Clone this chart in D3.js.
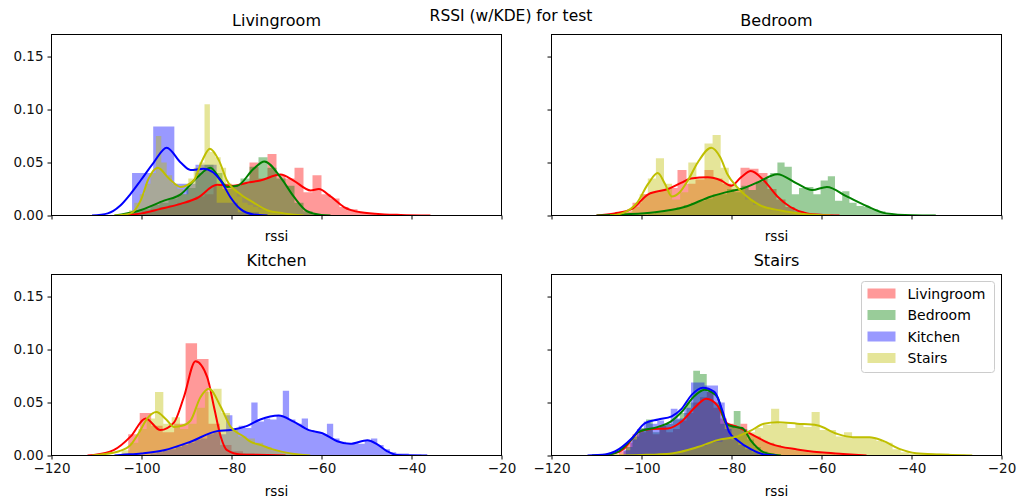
<!DOCTYPE html>
<html>
<head>
<meta charset="utf-8">
<script src="https://cdn.jsdelivr.net/npm/d3@7"></script>
<style>
  body { margin: 0; background: #fff; }
  text { font-family: "DejaVu Sans", sans-serif; }
</style>
</head>
<body>
<div id="chart"></div>
<script>
// rooms, colours and ticks
const rooms = ["Livingroom", "Bedroom", "Kitchen", "Stairs"];
const roomColors = ["#ff0000", "#008000", "#0000ff", "#bfbf00"];
const xTicks = [-120, -100, -80, -60, -40, -20];
const yTicks = [0, 0.05, 0.10, 0.15];

// histogram bins: [first edge, bin width], then densities per bin
// KDE curves: [rssi, density]

// ---- Livingroom panel
const binsP1Red = [-104, 2];
const histP1Red = [0.001, 0.002, 0.004, 0.006, 0.008, 0.01, 0.012, 0.014, 0.018, 0.02, 0.028, 0.03, 0.028, 0.03,
  0.05, 0.035, 0.058, 0.038, 0.035, 0.045, 0.022, 0.038, 0.02, 0.016, 0.008, 0.006, 0.003, 0.002];
const kdeP1Red = [[-104, 0], [-100, 0.002], [-96, 0.006], [-91.3, 0.011], [-87.6, 0.0165], [-83.2, 0.029], [-79.5, 0.028],
  [-76.5, 0.031], [-73.6, 0.033], [-69.1, 0.0387], [-66.2, 0.033], [-62.4, 0.0236], [-60.6, 0.025], [-58, 0.018],
  [-55, 0.008], [-51.3, 0.003], [-46, 0.001], [-42.4, 0.0005], [-35.8, 0]];

const binsP1Green = [-104, 2];
const histP1Green = [0.002, 0.004, 0.006, 0.01, 0.012, 0.016, 0.02, 0.026, 0.04, 0.048, 0.04, 0.025, 0.028, 0.035,
  0.046, 0.055, 0.045, 0.035, 0.028, 0.012, 0.004, 0.001];
const kdeP1Green = [[-106, 0], [-101, 0.004], [-95, 0.014], [-91.3, 0.02], [-87.6, 0.036], [-84.7, 0.045], [-82.5, 0.034],
  [-81, 0.027], [-78.7, 0.028], [-75.1, 0.044], [-72.7, 0.051], [-69.1, 0.036], [-66.2, 0.018], [-63.2, 0.004],
  [-60, 0.0005], [-58, 0]];

const binsP1Blue = [-102.1, 4.7];
const histP1Blue = [0.04, 0.084, 0.03, 0.048, 0.012, 0.003];
const kdeP1Blue = [[-111, 0], [-107.5, 0.002], [-104.7, 0.0094], [-102.5, 0.02], [-100.2, 0.033], [-97.3, 0.05],
  [-94.4, 0.064], [-91.3, 0.05], [-89.1, 0.043], [-86.2, 0.044], [-82.4, 0.033], [-80.2, 0.017], [-78, 0.006],
  [-75.1, 0.001], [-72, 0]];

const binsP1Yellow = [-102.8, 1.2];
const histP1Yellow = [0.005, 0.012, 0.02, 0.03, 0.04, 0.075, 0.05, 0.038, 0.03, 0.025, 0.02, 0.035, 0.045, 0.05,
  0.105, 0.06, 0.055, 0.045, 0.03, 0.025, 0.018, 0.012, 0.01, 0.008, 0.006, 0.005, 0.003, 0.002];
const kdeP1Yellow = [[-106, 0], [-102.4, 0.002], [-100.2, 0.014], [-98.4, 0.035], [-96.4, 0.045], [-93.9, 0.035],
  [-91.3, 0.027], [-88.4, 0.033], [-86.5, 0.052], [-84.8, 0.063], [-82.8, 0.052], [-81, 0.033], [-78, 0.02],
  [-75, 0.012], [-72.1, 0.005], [-68.4, 0.002], [-64, 0]];

// ---- Bedroom panel
const binsP2Red = [-106, 2];
const histP2Red = [0.002, 0.004, 0.012, 0.02, 0.022, 0.024, 0.026, 0.043, 0.03, 0.034, 0.043, 0.035, 0.03, 0.025,
  0.045, 0.044, 0.04, 0.025, 0.015, 0.008, 0.004, 0.002];
const kdeP2Red = [[-110, 0], [-106, 0.002], [-102.2, 0.006], [-98.5, 0.02], [-94.1, 0.025], [-91.1, 0.031], [-89, 0.035],
  [-85.3, 0.036], [-82.3, 0.033], [-80.1, 0.028], [-77.9, 0.036], [-75.7, 0.042], [-72.8, 0.033], [-69.8, 0.018],
  [-66.9, 0.008], [-63.2, 0.002], [-59.6, 0.0005], [-56, 0]];

const binsP2Green = [-100.2, 1.6];
const histP2Green = [0.001, 0.002, 0.003, 0.004, 0.006, 0.008, 0.01, 0.012, 0.014, 0.016, 0.02, 0.02, 0.025, 0.022,
  0.028, 0.024, 0.032, 0.035, 0.04, 0.05, 0.046, 0.02, 0.026, 0.027, 0.02, 0.033, 0.037, 0.014, 0.023, 0.012,
  0.009, 0.008, 0.006, 0.004, 0.002, 0.001, 0.001, 0.0005];
const kdeP2Green = [[-110, 0], [-104, 0.001], [-97, 0.003], [-90.5, 0.008], [-84.5, 0.018], [-80.1, 0.023],
  [-77.9, 0.025], [-74.3, 0.031], [-69.8, 0.039], [-65.4, 0.03], [-62.1, 0.024], [-58.8, 0.027], [-54.4, 0.018],
  [-50, 0.009], [-45.6, 0.002], [-39.8, 0.0003], [-34.6, 0]];

const binsP2Yellow = [-104, 1.8];
const histP2Yellow = [0.003, 0.008, 0.02, 0.035, 0.054, 0.03, 0.015, 0.022, 0.05, 0.035, 0.068, 0.076, 0.045, 0.03,
  0.025, 0.015, 0.01, 0.008, 0.005, 0.004, 0.003, 0.002, 0.001, 0.001];
const kdeP2Yellow = [[-107, 0], [-104.4, 0.002], [-101, 0.012], [-98.5, 0.03], [-96.4, 0.04], [-94.8, 0.03],
  [-93.3, 0.018], [-91.5, 0.022], [-89.7, 0.033], [-87.5, 0.05], [-84.5, 0.064], [-82.5, 0.055], [-80.9, 0.039],
  [-78.7, 0.0265], [-75.7, 0.015], [-73.5, 0.0094], [-69.1, 0.0047], [-64, 0.0015], [-58, 0]];

// ---- Kitchen panel
const binsP3Red = [-102.95, 2.55];
const histP3Red = [0.02, 0.04, 0.028, 0.022, 0.03, 0.106, 0.091, 0.03, 0.01, 0.004, 0.002, 0.001];
const kdeP3Red = [[-112, 0], [-110.6, 0.0005], [-106.2, 0.005], [-102.4, 0.018], [-99.1, 0.035], [-95.8, 0.024],
  [-92.8, 0.031], [-90.6, 0.055], [-88, 0.089], [-85.4, 0.074], [-83.9, 0.046], [-82.4, 0.018], [-81, 0.005],
  [-78, 0.001], [-72, 0.0005], [-68, 0]];

const binsP3Blue = [-98, 1.4];
const histP3Blue = [0.002, 0.003, 0.005, 0.006, 0.008, 0.01, 0.012, 0.015, 0.016, 0.02, 0.022, 0.02, 0.038, 0.025,
  0.028, 0.026, 0.05, 0.032, 0.035, 0.034, 0.038, 0.061, 0.034, 0.03, 0.035, 0.024, 0.022, 0.02, 0.03, 0.016,
  0.013, 0.011, 0.012, 0.011, 0.014, 0.016, 0.01, 0.006, 0.003, 0.002, 0.002, 0.001, 0.001, 0.0005];
const kdeP3Blue = [[-106, 0], [-104.7, 0.0005], [-100, 0.002], [-95, 0.005], [-89.1, 0.013], [-83.2, 0.023],
  [-80.2, 0.024], [-76.5, 0.028], [-73.6, 0.034], [-69.5, 0.0377], [-66.2, 0.032], [-62.8, 0.024], [-59.8, 0.021],
  [-56.5, 0.0135], [-53.6, 0.011], [-49.8, 0.0145], [-47.6, 0.0105], [-45.4, 0.004], [-43.2, 0.0005], [-36.5, 0]];

const binsP3Yellow = [-104.4, 1.85];
const histP3Yellow = [0.005, 0.012, 0.025, 0.035, 0.06, 0.03, 0.036, 0.025, 0.03, 0.045, 0.06, 0.063, 0.04, 0.025,
  0.018, 0.016, 0.012, 0.008, 0.005, 0.003, 0.002, 0.001];
const kdeP3Yellow = [[-111, 0], [-109, 0.001], [-105, 0.004], [-102.4, 0.01], [-100.5, 0.022], [-98.7, 0.035],
  [-96.7, 0.041], [-94.5, 0.034], [-92.8, 0.027], [-91, 0.028], [-89.1, 0.033], [-86.9, 0.055], [-85, 0.063],
  [-82.4, 0.046], [-80.2, 0.027], [-77.3, 0.018], [-75.8, 0.013], [-73.6, 0.01], [-71, 0.006], [-66.9, 0.002],
  [-62.5, 0]];

// ---- Stairs panel
const binsP4Red = [-105, 1.5];
const histP4Red = [0.004, 0.012, 0.02, 0.022, 0.025, 0.02, 0.028, 0.022, 0.025, 0.033, 0.04, 0.05, 0.055, 0.06,
  0.045, 0.035, 0.03, 0.026, 0.03, 0.02, 0.018, 0.014, 0.012, 0.01, 0.008, 0.006, 0.005, 0.004, 0.003, 0.003,
  0.002, 0.002, 0.001, 0.001];
const kdeP4Red = [[-110, 0], [-106, 0.002], [-104, 0.006], [-100.7, 0.022], [-97.8, 0.025], [-94.1, 0.0255],
  [-91.1, 0.032], [-88.2, 0.045], [-85.6, 0.0535], [-83.1, 0.047], [-80.9, 0.03], [-78.7, 0.027], [-75.7, 0.0205],
  [-71.3, 0.011], [-65.4, 0.0057], [-60.3, 0.003], [-55.2, 0.0015], [-50, 0]];

const binsP4Green = [-103.5, 1.5];
const histP4Green = [0.008, 0.018, 0.026, 0.034, 0.022, 0.028, 0.03, 0.034, 0.04, 0.05, 0.08, 0.077, 0.06, 0.05,
  0.03, 0.028, 0.042, 0.025, 0.015, 0.008, 0.004, 0.002];
const kdeP4Green = [[-111, 0], [-107, 0.001], [-105, 0.004], [-102.5, 0.014], [-100.7, 0.022], [-96.3, 0.027],
  [-93.5, 0.032], [-91.1, 0.041], [-88.5, 0.055], [-86, 0.062], [-84.5, 0.06], [-83.1, 0.055], [-81.2, 0.03],
  [-79.4, 0.027], [-77.6, 0.026], [-75.7, 0.014], [-72.8, 0.003], [-69, 0]];

const binsP4Blue = [-104, 1.5];
const histP4Blue = [0.005, 0.015, 0.025, 0.032, 0.03, 0.033, 0.03, 0.044, 0.035, 0.045, 0.069, 0.069, 0.066, 0.066,
  0.05, 0.025, 0.015, 0.01, 0.006, 0.003, 0.001];
const kdeP4Blue = [[-112, 0], [-108, 0.001], [-105.8, 0.004], [-102.2, 0.016], [-99.2, 0.0305], [-96.3, 0.034],
  [-93.3, 0.037], [-91.1, 0.044], [-88.9, 0.057], [-86.4, 0.064], [-83.8, 0.06], [-82, 0.042], [-80.5, 0.022],
  [-78.7, 0.0145], [-75.7, 0.006], [-72.8, 0.001], [-70, 0]];

const binsP4Yellow = [-100, 1.8];
const histP4Yellow = [0.001, 0.001, 0.002, 0.002, 0.003, 0.005, 0.007, 0.009, 0.012, 0.013, 0.016, 0.018, 0.02,
  0.022, 0.026, 0.029, 0.044, 0.03, 0.026, 0.03, 0.027, 0.041, 0.024, 0.024, 0.018, 0.022, 0.017, 0.017, 0.017,
  0.014, 0.012, 0.006, 0.003, 0.002, 0.002, 0.002, 0.002, 0.002, 0.001, 0.001];
const kdeP4Yellow = [[-106, 0], [-100, 0.0005], [-93.3, 0.002], [-87.5, 0.008], [-83.1, 0.0145], [-78.7, 0.018],
  [-75.7, 0.0235], [-72.8, 0.03], [-69.8, 0.0314], [-65.4, 0.03], [-61, 0.0286], [-56.6, 0.0205], [-53, 0.0173],
  [-49.3, 0.0173], [-46.4, 0.014], [-42.7, 0.0063], [-39, 0.0022], [-33.9, 0.001], [-26.5, 0]];

// table of what goes in each subplot (colour index, bins, hist, kde)
const panels = [
  { title: rooms[0], series: [[0, binsP1Red, histP1Red, kdeP1Red], [1, binsP1Green, histP1Green, kdeP1Green],
                              [2, binsP1Blue, histP1Blue, kdeP1Blue], [3, binsP1Yellow, histP1Yellow, kdeP1Yellow]] },
  { title: rooms[1], series: [[0, binsP2Red, histP2Red, kdeP2Red], [1, binsP2Green, histP2Green, kdeP2Green],
                              [3, binsP2Yellow, histP2Yellow, kdeP2Yellow]] },
  { title: rooms[2], series: [[0, binsP3Red, histP3Red, kdeP3Red], [2, binsP3Blue, histP3Blue, kdeP3Blue],
                              [3, binsP3Yellow, histP3Yellow, kdeP3Yellow]] },
  { title: rooms[3], series: [[0, binsP4Red, histP4Red, kdeP4Red], [1, binsP4Green, histP4Green, kdeP4Green],
                              [2, binsP4Blue, histP4Blue, kdeP4Blue], [3, binsP4Yellow, histP4Yellow, kdeP4Yellow]] }
];

const W = 1021, H = 503;
const pw = 450, ph = 181;
const lefts = [51.5, 551.5], tops = [34.5, 274.5];

const svg = d3.select("#chart").append("svg")
  .attr("width", W).attr("height", H);

svg.append("text")
  .attr("x", 511).attr("y", 21)
  .attr("text-anchor", "middle")
  .style("font-size", "15.5px")
  .text("RSSI (w/KDE) for test");

const x = d3.scaleLinear().domain([-120, -20]).range([0, pw]);
const y = d3.scaleLinear().domain([0, 0.1708]).range([ph, 0]);

const line = d3.line()
  .x(d => x(d[0]))
  .y(d => y(d[1]))
  .curve(d3.curveMonotoneX);

// histogram outline as a step area (no seams between bars)
const histArea = d3.area()
  .x(d => x(d[0]))
  .y0(y(0))
  .y1(d => y(d[1]))
  .curve(d3.curveStepAfter);

function histPoints(bins, hist) {
  const pts = hist.map((h, k) => [bins[0] + k * bins[1], h]);
  pts.push([bins[0] + hist.length * bins[1], hist[hist.length - 1]]);
  return pts;
}

panels.forEach((p, i) => {
  const col = i % 2, row = Math.floor(i / 2);
  const g = svg.append("g")
    .attr("transform", `translate(${lefts[col]},${tops[row]})`);

  g.append("clipPath").attr("id", "clip" + i)
    .append("rect").attr("width", pw).attr("height", ph);

  const plot = g.append("g").attr("clip-path", `url(#clip${i})`);

  // bars first (patches), then all KDE lines on top, like matplotlib zorder
  p.series.forEach(s => {
    const [ci, bins, hist] = s;
    plot.append("path")
      .datum(histPoints(bins, hist))
      .attr("d", histArea)
      .attr("fill", roomColors[ci])
      .attr("fill-opacity", 0.4);
  });
  p.series.forEach(s => {
    const [ci, , , kde] = s;
    plot.append("path")
      .datum(kde)
      .attr("d", line)
      .attr("fill", "none")
      .attr("stroke", roomColors[ci])
      .attr("stroke-width", 2);
  });

  // axes
  const xAxis = d3.axisBottom(x).tickValues(xTicks).tickSize(4).tickPadding(4);
  if (row === 0) xAxis.tickFormat("");
  const gx = g.append("g").attr("transform", `translate(0,${ph})`).call(xAxis);

  const yAxis = d3.axisLeft(y).tickValues(yTicks).tickSize(4).tickPadding(4)
    .tickFormat(col === 0 ? d3.format(".2f") : "");
  const gy = g.append("g").call(yAxis);

  [gx, gy].forEach(a => {
    a.select(".domain").remove();
    a.selectAll("line").attr("stroke", "#000");
    a.selectAll("text").style("font-size", "13.5px").attr("fill", "#111")
      .style("font-family", "DejaVu Sans, sans-serif");
  });

  g.append("rect")
    .attr("width", pw).attr("height", ph)
    .attr("fill", "none").attr("stroke", "#000").attr("stroke-width", 1);

  g.append("text")
    .attr("x", pw / 2).attr("y", -9)
    .attr("text-anchor", "middle")
    .style("font-size", "16px")
    .text(p.title);

  g.append("text")
    .attr("x", pw / 2).attr("y", ph + (row === 0 ? 25 : 40))
    .attr("text-anchor", "middle")
    .style("font-size", "13.5px")
    .text("rssi");

  // legend in the last panel
  if (i === 3) {
    const lg = g.append("g").attr("transform", `translate(${pw - 140},7)`);
    lg.append("rect")
      .attr("width", 133).attr("height", 91).attr("rx", 3)
      .attr("fill", "#fff").attr("fill-opacity", 0.8)
      .attr("stroke", "#ccc");
    rooms.forEach((r, k) => {
      lg.append("rect")
        .attr("x", 6).attr("y", 7 + k * 21.5)
        .attr("width", 28).attr("height", 10)
        .attr("fill", roomColors[k]).attr("fill-opacity", 0.4);
      lg.append("text")
        .attr("x", 46).attr("y", 17 + k * 21.5)
        .style("font-size", "14px")
        .text(r);
    });
  }
});
</script>
</body>
</html>
